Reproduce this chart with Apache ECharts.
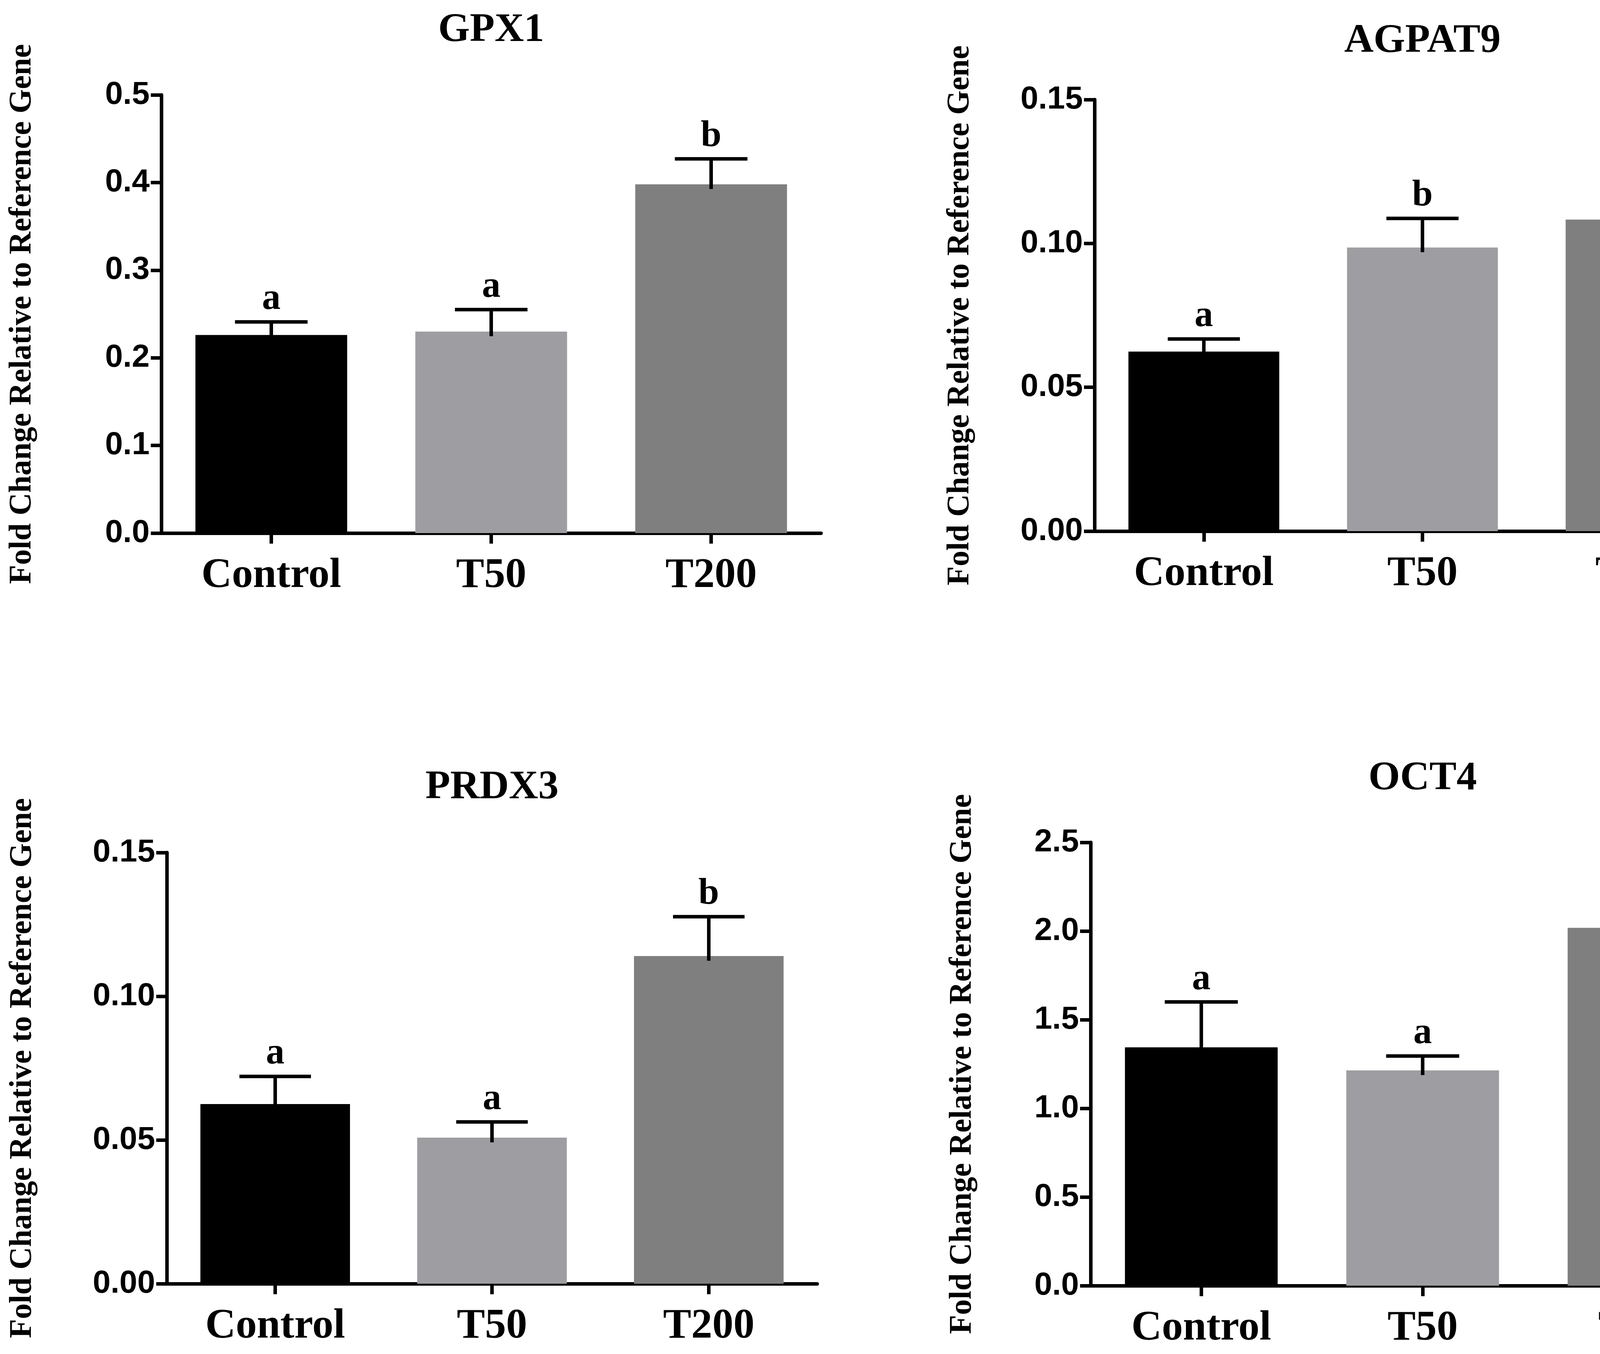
<!DOCTYPE html>
<html><head><meta charset="utf-8">
<script src="https://cdn.jsdelivr.net/npm/echarts@6/dist/echarts.min.js"></script>
<style>html,body{margin:0;padding:0;background:#fff;overflow:hidden}#c{width:4550px;height:3467px}</style>
</head><body><div id="c"></div>
<script>
// ---- data ----
const categories = ['Control', 'T50', 'T200'];
const yAxisTitle = 'Fold Change Relative to Reference Gene';

const gpx1Mean = [0.226, 0.230, 0.398];
const gpx1Upper = [0.241, 0.255, 0.427];
const gpx1Letters = ['a', 'a', 'b'];
const gpx1Ticks = [0, 0.5, 0.1, 1];      // min, max, interval, decimals

const agpat9Mean = [0.0624, 0.0986, 0.1083];
const agpat9Upper = [0.0668, 0.1087, 0.1189];
const agpat9Letters = ['a', 'b', 'b'];
const agpat9Ticks = [0, 0.15, 0.05, 2];

const prdx3Mean = [0.0625, 0.0508, 0.114];
const prdx3Upper = [0.0721, 0.0563, 0.1277];
const prdx3Letters = ['a', 'a', 'b'];
const prdx3Ticks = [0, 0.15, 0.05, 2];

const oct4Mean = [1.344, 1.214, 2.018];
const oct4Upper = [1.60, 1.295, 2.25];
const oct4Letters = ['a', 'a', 'b'];
const oct4Ticks = [0, 2.5, 0.5, 1];

// ---- styles / layout ----
const barColors = ['#000000', '#9e9ea2', '#7f7f7f'];
const panels = [
  {title: 'GPX1', mean: gpx1Mean, upper: gpx1Upper, letters: gpx1Letters, ticks: gpx1Ticks,
   grid: {left: 413, top: 243, width: 1689, height: 1122}, titleTop: 26, nameGap: 316},
  {title: 'AGPAT9', mean: agpat9Mean, upper: agpat9Upper, letters: agpat9Letters, ticks: agpat9Ticks,
   grid: {left: 2802, top: 255, width: 1679, height: 1105}, titleTop: 54, nameGap: 304},
  {title: 'PRDX3', mean: prdx3Mean, upper: prdx3Upper, letters: prdx3Letters, ticks: prdx3Ticks,
   grid: {left: 427, top: 2183, width: 1665, height: 1104}, titleTop: 1965, nameGap: 329},
  {title: 'OCT4', mean: oct4Mean, upper: oct4Upper, letters: oct4Letters, ticks: oct4Ticks,
   grid: {left: 2792, top: 2157, width: 1700, height: 1135}, titleTop: 1942, nameGap: 288}
];

const serif = '"Liberation Serif", "Times New Roman", serif';
const sans = '"Liberation Sans", Arial, sans-serif';
const LW = 9;

const option = {
  backgroundColor: '#ffffff',
  animation: false,
  title: [], grid: [], xAxis: [], yAxis: [], series: []
};

panels.forEach((p, k) => {
  option.grid.push(Object.assign({containLabel: false}, p.grid));
  option.title.push({
    text: p.title,
    left: p.grid.left + p.grid.width / 2,
    top: p.titleTop,
    textAlign: 'center',
    padding: 0,
    textStyle: {fontFamily: serif, fontWeight: 'bold', fontSize: 104, color: '#000'}
  });
  option.xAxis.push({
    type: 'category', gridIndex: k, data: categories,
    axisLine: {show: true, lineStyle: {color: '#000', width: LW}},
    axisTick: {show: true, alignWithLabel: true, length: 27, lineStyle: {color: '#000', width: LW}},
    axisLabel: {fontFamily: serif, fontWeight: 'bold', fontSize: 108, color: '#000', margin: 56},
    splitLine: {show: false}
  });
  const dec = p.ticks[3];
  option.yAxis.push({
    type: 'value', gridIndex: k,
    min: p.ticks[0], max: p.ticks[1], interval: p.ticks[2],
    axisLine: {show: true, lineStyle: {color: '#000', width: LW}},
    axisTick: {show: true, length: 27, lineStyle: {color: '#000', width: LW}},
    splitLine: {show: false},
    axisLabel: {formatter: v => v.toFixed(dec), fontFamily: sans, fontWeight: 'bold', fontSize: 82, color: '#000', margin: 30},
    name: yAxisTitle, nameLocation: 'middle', nameRotate: 90, nameGap: p.nameGap,
    nameTextStyle: {fontFamily: serif, fontWeight: 'bold', fontSize: 80, color: '#000'}
  });
  option.series.push({
    type: 'bar', xAxisIndex: k, yAxisIndex: k, barWidth: '69%',
    data: p.mean.map((v, i) => ({value: v, itemStyle: {color: barColors[i]}}))
  });
  option.series.push({
    type: 'custom', xAxisIndex: k, yAxisIndex: k, clip: false, z: 5,
    data: p.upper.map((u, i) => [i, u]),
    renderItem: function (params, api) {
      const i = api.value(0);
      const up = api.value(1);
      const pTop = api.coord([i, up]);
      const pMean = api.coord([i, p.mean[i]]);
      const hw = api.size([1, 0])[0] * 0.165;
      return {
        type: 'group',
        children: [
          {type: 'line', shape: {x1: pTop[0], y1: pMean[1] + 12, x2: pTop[0], y2: pTop[1]},
           style: {stroke: '#000', lineWidth: LW}},
          {type: 'line', shape: {x1: pTop[0] - hw, y1: pTop[1], x2: pTop[0] + hw, y2: pTop[1]},
           style: {stroke: '#000', lineWidth: LW}},
          {type: 'text', x: pTop[0], y: pTop[1] - 10,
           style: {text: p.letters[i], fontFamily: serif, fontWeight: 'bold', fontSize: 95,
                   fill: '#000', align: 'center', verticalAlign: 'bottom'}}
        ]
      };
    }
  });
});

const chart = echarts.init(document.getElementById('c'), null, {renderer: 'canvas'});
chart.setOption(option);
</script>
</body></html>
